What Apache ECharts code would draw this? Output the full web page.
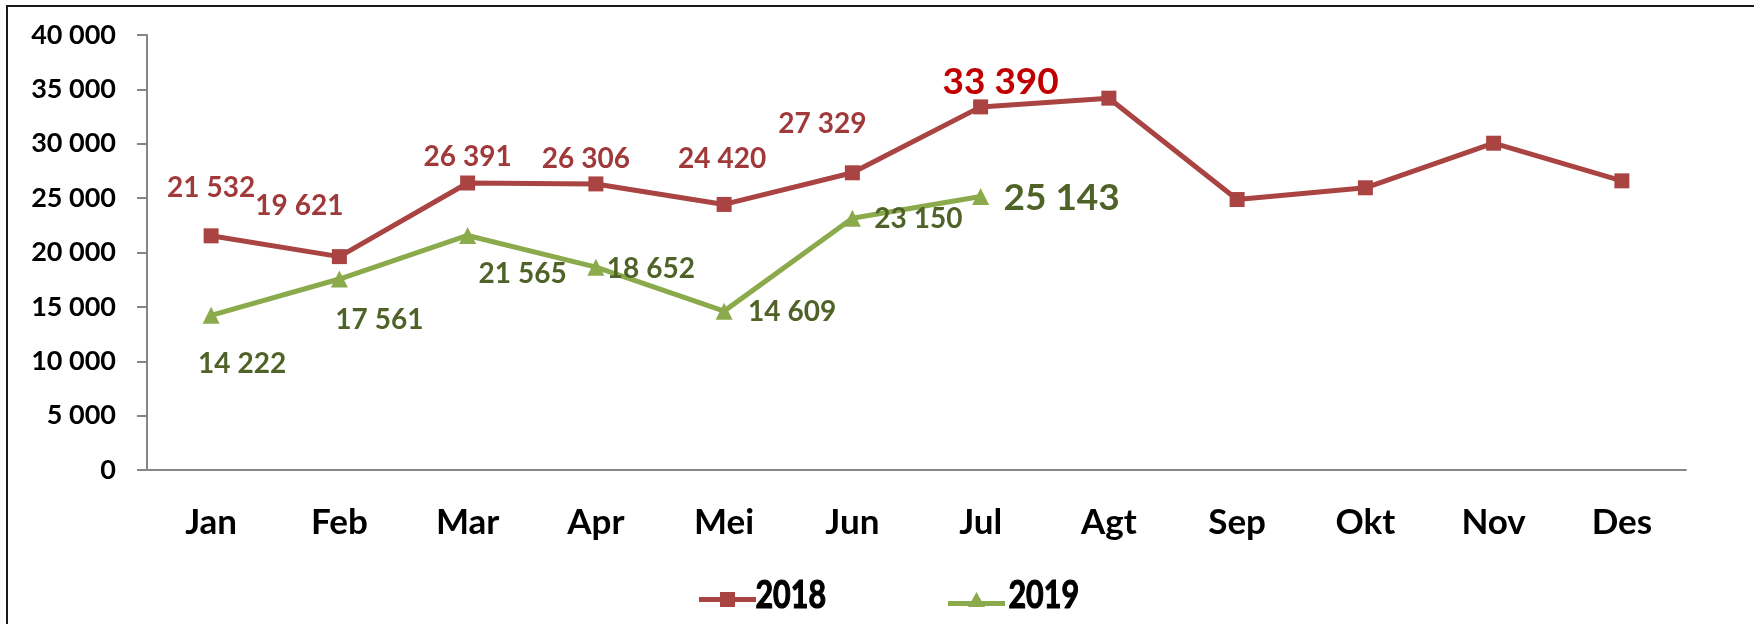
<!DOCTYPE html>
<html>
<head>
<meta charset="utf-8">
<script src="https://cdn.jsdelivr.net/npm/echarts@6/dist/echarts.min.js"></script>
<style>
  html, body { margin: 0; padding: 0; background: #fff; }
  #chart { width: 1754px; height: 624px; }
</style>
</head>
<body>
<div id="chart"></div>
<script>
const months = ['Jan', 'Feb', 'Mar', 'Apr', 'Mei', 'Jun', 'Jul', 'Agt', 'Sep', 'Okt', 'Nov', 'Des']
const years = ['2018', '2019']
const values2018 = [21532, 19621, 26391, 26306, 24420, 27329, 33390, 34190, 24870, 25950, 30050, 26590]
const values2019 = [14222, 17561, 21565, 18652, 14609, 23150, 25143]
// which points carry a value label
const labelled2018 = [true, true, true, true, true, true, true, false, false, false, false, false]

const fontMain = 'Lato, "Open Sans", sans-serif'

// label nudges [dx, dy] from the marker centre
const offsets2018 = [[0, -48], [-40, -51], [0, -26], [-10, -25], [-2, -45], [-30, -49], [20, -25]]
const offsets2019 = [[31, 49], [40, 41], [55, 38], [55, 2], [68, 1], [66, 1], [81, 1]]

// legend icons: thick line with the series marker in the middle
const legendIcons = [
  'path://M0,5H57V10H0Z M21,0H36V15H21Z',
  'path://M0,9H57V14H0Z M28.5,0L37,15L20,15Z',
]

function fmt(v) {
  return String(v).replace(/\B(?=(\d{3})+(?!\d))/g, ' ')
}

const last2018 = 6
const last2019 = values2019.length - 1

const data2018 = values2018.map((v, i) => {
  if (!labelled2018[i]) return { value: v, label: { show: false } }
  const big = i === last2018
  return {
    value: v,
    label: {
      show: true,
      position: 'inside',
      offset: offsets2018[i],
      color: big ? '#C00000' : '#A0393A',
      fontSize: big ? 37 : 28,
    },
  }
})

const data2019 = values2019.map((v, i) => {
  const big = i === last2019
  return {
    value: v,
    label: {
      show: true,
      position: 'inside',
      offset: offsets2019[i],
      color: '#4F6228',
      fontSize: big ? 37 : 28,
    },
  }
})

// legend names drawn as narrow bold text next to the legend icons
const legendText = years.map((name, i) => ({
  type: 'text',
  left: i === 0 ? 755 : 1008,
  top: 576,
  scaleX: 0.8,
  style: {
    text: name,
    fill: '#000',
    stroke: '#000',
    lineWidth: 1.2,
    fontFamily: 'Lato, sans-serif',
    fontWeight: 'bold',
    fontSize: 38,
  },
  silent: true,
}))

const chart = echarts.init(document.getElementById('chart'))

const option = {
  animation: false,
  backgroundColor: '#fff',
  graphic: [
    {
      type: 'rect',
      shape: { x: 7, y: 6, width: 2000, height: 800 },
      style: { fill: 'none', stroke: '#1a1a1a', lineWidth: 2 },
      silent: true,
    },
    ...legendText,
  ],
  grid: {
    left: 147,
    right: 68,
    top: 35,
    bottom: 154,
  },
  legend: {
    data: years.map((name, i) => ({ name, icon: legendIcons[i] })),
    left: 694,
    top: 587,
    itemWidth: 57,
    itemHeight: 15,
    itemGap: 192,
    formatter: () => '',
    textStyle: { fontSize: 15 },
  },
  xAxis: {
    type: 'category',
    data: months,
    boundaryGap: true,
    axisLine: { show: true, lineStyle: { color: '#868686', width: 2 } },
    axisTick: { show: false },
    axisLabel: {
      color: '#000',
      fontFamily: fontMain,
      fontWeight: 'bold',
      fontSize: 35,
      lineHeight: 35,
      margin: 35,
    },
  },
  yAxis: {
    type: 'value',
    min: 0,
    max: 40000,
    interval: 5000,
    splitLine: { show: false },
    axisLine: { show: true, lineStyle: { color: '#868686', width: 2 } },
    axisTick: { show: true, length: 10, lineStyle: { color: '#868686', width: 2 } },
    axisLabel: {
      color: '#000',
      fontFamily: fontMain,
      fontWeight: 'bold',
      fontSize: 27,
      margin: 31,
      formatter: fmt,
    },
  },
  series: [
    {
      name: years[0],
      type: 'line',
      data: data2018,
      symbol: 'rect',
      symbolSize: 15,
      lineStyle: { color: '#A94442', width: 5 },
      itemStyle: { color: '#A94442' },
      label: {
        fontFamily: fontMain,
        fontWeight: 'bold',
        formatter: (p) => fmt(p.value),
      },
      z: 3,
    },
    {
      name: years[1],
      type: 'line',
      data: data2019,
      symbol: 'triangle',
      symbolSize: 17,
      lineStyle: { color: '#8BAA4C', width: 5 },
      itemStyle: { color: '#8BAA4C' },
      label: {
        fontFamily: fontMain,
        fontWeight: 'bold',
        formatter: (p) => fmt(p.value),
      },
      z: 2,
    },
  ],
}

chart.setOption(option)
</script>
</body>
</html>
